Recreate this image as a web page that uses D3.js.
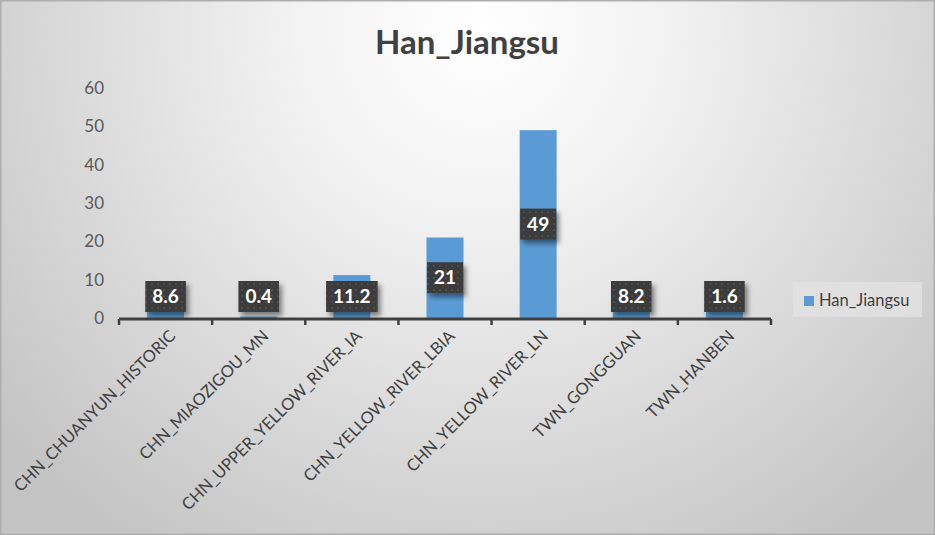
<!DOCTYPE html>
<html><head><meta charset="utf-8">
<script src="https://cdn.jsdelivr.net/npm/d3@7"></script>
<style>html,body{margin:0;padding:0;background:#fff}svg{display:block}</style>
</head><body><svg id="c" width="935" height="535"></svg>
<script>
const categories = ["CHN_CHUANYUN_HISTORIC","CHN_MIAOZIGOU_MN","CHN_UPPER_YELLOW_RIVER_IA","CHN_YELLOW_RIVER_LBIA","CHN_YELLOW_RIVER_LN","TWN_GONGGUAN","TWN_HANBEN"];
const values = [8.6, 0.4, 11.2, 21, 49, 8.2, 1.6];
const yTicks = [0,10,20,30,40,50,60];
const seriesName = "Han_Jiangsu";
const title = "Han_Jiangsu";

const W=935,H=535;
const svg=d3.select("#c");
const defs=svg.append("defs");
const rg=defs.append("radialGradient").attr("id","bg").attr("gradientUnits","userSpaceOnUse")
  .attr("cx",480).attr("cy",30).attr("r",620);
rg.append("stop").attr("offset","0").attr("stop-color","#ffffff");
rg.append("stop").attr("offset","0.3").attr("stop-color","#f2f2f2");
rg.append("stop").attr("offset","1").attr("stop-color","#c4c4c4");
const pat=defs.append("pattern").attr("id","dots").attr("patternUnits","userSpaceOnUse").attr("width",6).attr("height",6);
pat.append("rect").attr("width",6).attr("height",6).attr("fill","#3b3b3b");
pat.append("rect").attr("x",1).attr("y",1).attr("width",2).attr("height",2).attr("fill","#4d4d4d");
pat.append("rect").attr("x",4).attr("y",4).attr("width",1).attr("height",1).attr("fill","#474747");
const f=defs.append("filter").attr("id","sh").attr("x","-30%").attr("y","-30%").attr("width","170%").attr("height","170%");
f.append("feDropShadow").attr("dx",3).attr("dy",4).attr("stdDeviation",2.5).attr("flood-color","#000").attr("flood-opacity",0.45);
const f2=defs.append("filter").attr("id","gsh").attr("x","-5%").attr("y","-100%").attr("width","110%").attr("height","400%");
f2.append("feDropShadow").attr("dx",0).attr("dy",1).attr("stdDeviation",0.8).attr("flood-color","#000").attr("flood-opacity",0.2);

svg.append("rect").attr("x",0).attr("y",0).attr("width",W).attr("height",H).attr("fill","url(#bg)");
svg.append("rect").attr("x",0.5).attr("y",0.5).attr("width",W-1).attr("height",H-1).attr("fill","none").attr("stroke","#aeaeae").attr("stroke-width",2);

svg.append("text").attr("x",467).attr("y",54).attr("text-anchor","middle")
  .attr("font-family","Lato, sans-serif").attr("font-weight","bold").attr("font-size",33)
  .attr("fill","#404040").text(title);

const xb=d3.scaleBand().domain(categories).range([119,771]);
const y=d3.scaleLinear().domain([0,60]).range([318,88]);

// gridlines
svg.append("g").selectAll("line").data(yTicks.filter(d=>d>0)).join("line")
  .attr("x1",119).attr("x2",771).attr("y1",d=>y(d)).attr("y2",d=>y(d))
  .attr("stroke","#bdbdbd").attr("stroke-width",1.5).attr("filter","url(#gsh)");

// y axis labels
const ya=svg.append("g").attr("transform","translate(104,0)").call(d3.axisLeft(y).tickValues(yTicks).tickSize(0).tickPadding(0));
ya.select(".domain").remove();
ya.selectAll("text").attr("font-family","Lato, sans-serif").attr("font-size",17).attr("fill","#595959");

// bars
svg.append("g").selectAll("rect").data(values).join("rect")
  .attr("x",(d,i)=>xb(categories[i])+xb.bandwidth()/2-18.5).attr("width",37)
  .attr("y",d=>y(d)).attr("height",d=>y(0)-y(d)).attr("fill","#5b9bd5");

// x axis
const xa=svg.append("g").attr("transform","translate(0,319)");
xa.append("line").attr("x1",119).attr("x2",771).attr("stroke","#404040").attr("stroke-width",3);
xa.selectAll("line.t").data(categories.concat(["__end"])).join("line").attr("class","t")
  .attr("x1",(d,i)=>119+i*xb.step()).attr("x2",(d,i)=>119+i*xb.step()).attr("y1",0).attr("y2",6)
  .attr("stroke","#404040").attr("stroke-width",2.5);
xa.selectAll("text").data(categories).join("text")
  .attr("transform",d=>`translate(${xb(d)+xb.bandwidth()/2+11},${18}) rotate(-45)`)
  .attr("text-anchor","end").attr("font-family","Lato, sans-serif").attr("font-size",16.5).attr("fill","#404040").text(d=>d);

// data labels
const lg=svg.append("g");
values.forEach((v,i)=>{
  const cx=xb(categories[i])+xb.bandwidth()/2;
  const cy=Math.min((y(v)+y(0))/2,296.5);
  const g=lg.append("g");
  const t=g.append("text").attr("x",cx).attr("y",cy+6.5).attr("text-anchor","middle")
    .attr("font-family","Lato, sans-serif").attr("font-weight","bold").attr("font-size",19).attr("fill","#fff").text(String(v));
  const w=t.node().getComputedTextLength()+14;
  g.insert("rect","text").attr("x",cx-w/2).attr("y",cy-15.5).attr("width",w).attr("height",31)
    .attr("fill","url(#dots)").attr("filter","url(#sh)");
});

// legend
const L=svg.append("g");
L.append("rect").attr("x",793).attr("y",282).attr("width",129).attr("height",35).attr("fill","#e2e2e2").attr("opacity",0.8);
L.append("rect").attr("x",804).attr("y",296).attr("width",10).attr("height",10).attr("fill","#5b9bd5");
L.append("text").attr("x",819).attr("y",306).attr("font-family","Lato, sans-serif").attr("font-size",16.5).attr("fill","#404040").text(seriesName);
</script></body></html>
